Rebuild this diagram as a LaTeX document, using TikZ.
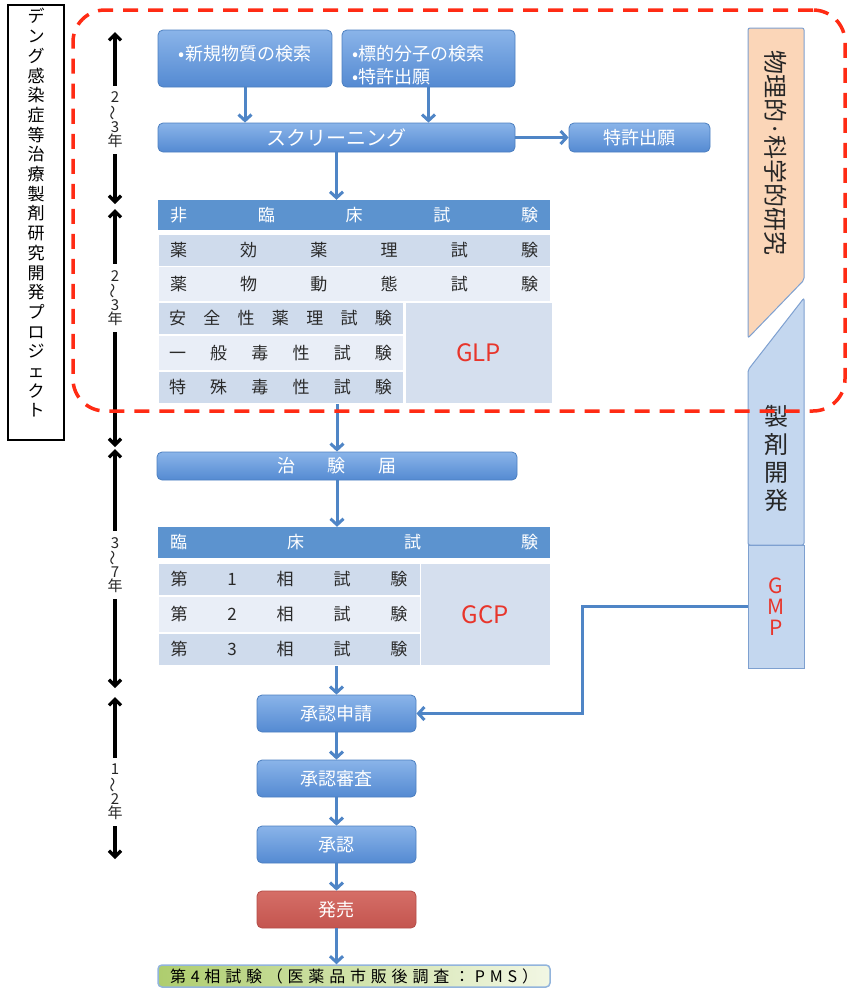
\documentclass[tikz,border=0pt]{standalone}
\usepackage{fontspec}
\setmainfont{Noto Sans CJK JP}
\usepackage{graphicx}
\usetikzlibrary{arrows.meta}

\definecolor{boxtop}{HTML}{8AB4E9}
\definecolor{boxbot}{HTML}{548AD2}
\definecolor{boxline}{HTML}{4C7FC0}
\definecolor{hdblue}{HTML}{5C93CF}
\definecolor{rowdark}{HTML}{CFDBEC}
\definecolor{rowlight}{HTML}{E9EEF7}
\definecolor{glpfill}{HTML}{D5DFEE}
\definecolor{tabtext}{HTML}{2A2A2A}
\definecolor{gxpred}{HTML}{E8352B}
\definecolor{arrowblue}{HTML}{4F85C6}
\definecolor{launchtop}{HTML}{D56E67}
\definecolor{launchbot}{HTML}{C4554F}
\definecolor{launchline}{HTML}{B44D48}
\definecolor{pmsleft}{HTML}{AECD6E}
\definecolor{pmsright}{HTML}{F2F7E4}
\definecolor{pmsline}{HTML}{92B4DC}
\definecolor{physfill}{HTML}{FBD6B8}
\definecolor{colfill}{HTML}{C4D7EF}
\definecolor{colline}{HTML}{7EA0D0}
\definecolor{dashred}{HTML}{FF2B14}

\newcommand{\jfont}[2]{\fontsize{#1}{#2}\selectfont}

\tikzset{
  flowbox/.style={rectangle, rounded corners=5pt, draw=boxline, line width=0.8pt,
    top color=boxtop, bottom color=boxbot, text=white, inner sep=0pt, font=\jfont{18}{21}},
  salebox/.style={flowbox, top color=launchtop, bottom color=launchbot, draw=launchline},
  tabhead/.style={rectangle, fill=hdblue, text=white, inner sep=0pt, font=\jfont{17}{20}},
  rowdk/.style={rectangle, fill=rowdark, draw=white, line width=1pt, text=tabtext,
    inner sep=0pt, font=\jfont{17}{20}},
  rowlt/.style={rowdk, fill=rowlight},
  gxpcell/.style={rectangle, fill=glpfill, draw=white, line width=1pt, text=gxpred,
    inner sep=0pt, font=\jfont{24}{28}},
  flowarrow/.style={draw=arrowblue, line width=3pt, -{Straight Barb[length=6pt,width=13pt]}},
  timearrow/.style={draw=black, line width=3.2pt,
    {Straight Barb[length=6pt,width=12pt]}-{Straight Barb[length=6pt,width=12pt]}},
  timelabel/.style={fill=white, align=center, inner xsep=2pt, inner ysep=6pt,
    font=\jfont{15}{14}, text=black!85}
}

\begin{document}
\begin{tikzpicture}[x=1pt, y=-1pt]
  \useasboundingbox (0,0) rectangle (847,996);

  % project title on the left
  \node[draw=black, line width=1.2pt, minimum width=56, minimum height=435, inner sep=0pt] (projbox) at (36,222.5) {};
  \node[align=center, font=\jfont{17}{19.7}] (projtitle) at (36,213)
    {デ\\ン\\グ\\感\\染\\症\\等\\治\\療\\製\\剤\\研\\究\\開\\発\\プ\\ロ\\ジ\\ェ\\ク\\ト};

  % time scale
  \coordinate (t0) at (115,32);
  \coordinate (t1a) at (115,204);
  \coordinate (t1b) at (115,209);
  \coordinate (t2a) at (115,447);
  \coordinate (t2b) at (115,449);
  \coordinate (t3a) at (115,688);
  \coordinate (t3b) at (115,697);
  \coordinate (t4) at (115,859);
  \draw[timearrow] (t0) -- node[timelabel, pos=0.51] (yrs1) {2\\\rotatebox[origin=c]{90}{〜}\\3\\年} (t1a);
  \draw[timearrow] (t1b) -- node[timelabel, pos=0.374] (yrs2) {2\\\rotatebox[origin=c]{90}{〜}\\3\\年} (t2a);
  \draw[timearrow] (t2b) -- node[timelabel, pos=0.485] (yrs3) {3\\\rotatebox[origin=c]{90}{〜}\\7\\年} (t3a);
  \draw[timearrow] (t3b) -- node[timelabel, pos=0.586] (yrs4) {1\\\rotatebox[origin=c]{90}{〜}\\2\\年} (t4);

  % discovery
  \node[flowbox, minimum width=174, minimum height=57, align=center] (newsub) at (245,58.5) {•新規物質の検索\\[-9pt]\mbox{}};
  \node[flowbox, minimum width=173, minimum height=57, text width=153, align=left] (target) at (428.5,58.5)
    {\mbox{}\\[8pt]•標的分子の検索\\[2pt]•特許出願};
  \node[flowbox, minimum width=357, minimum height=29, font=\jfont{20}{23}] (screen) at (336.5,137.5) {スクリーニング};
  \node[flowbox, minimum width=141, minimum height=29] (patent) at (639.5,137.5) {特許出願};
  \draw[flowarrow] (newsub) -- (newsub |- screen.north);
  \draw[flowarrow] (target) -- (target |- screen.north);
  \draw[flowarrow] (screen.east) -- (patent.west);

  % non-clinical tests
  \node[tabhead, minimum width=392, minimum height=30] (nchead) at (354,215)
    {\makebox[368pt][s]{非\hfill 臨\hfill 床\hfill 試\hfill 験}};
  \node[rowdk, minimum width=392, minimum height=32] (ncrow1) at (354,250.5)
    {\makebox[368pt][s]{薬\hfill 効\hfill 薬\hfill 理\hfill 試\hfill 験}};
  \node[rowlt, minimum width=392, minimum height=35] (ncrow2) at (354,284)
    {\makebox[368pt][s]{薬\hfill 物\hfill 動\hfill 態\hfill 試\hfill 験}};
  \node[rowdk, minimum width=245, minimum height=32] (ncrow3) at (280.5,318.5)
    {\makebox[223pt][s]{安\hfill 全\hfill 性\hfill 薬\hfill 理\hfill 試\hfill 験}};
  \node[rowlt, minimum width=245, minimum height=35] (ncrow4) at (280.5,353)
    {\makebox[223pt][s]{一\hfill 般\hfill 毒\hfill 性\hfill 試\hfill 験}};
  \node[rowdk, minimum width=245, minimum height=32] (ncrow5) at (280.5,387.5)
    {\makebox[223pt][s]{特\hfill 殊\hfill 毒\hfill 性\hfill 試\hfill 験}};
  \node[gxpcell, minimum width=147, minimum height=101] (glp) at (478.5,353) {GLP};
  \draw[flowarrow] (screen.south) -- (screen.south |- nchead.north);

  % clinical trial notification and trials
  \node[flowbox, minimum width=360, minimum height=28] (ctn) at (337,466)
    {治\hspace{33pt}験\hspace{33pt}届};
  \draw[flowarrow] (ctn.north |- ncrow5.south) -- (ctn.north);
  \node[tabhead, minimum width=392, minimum height=31] (clhead) at (354,542.5)
    {\makebox[368pt][s]{臨\hfill 床\hfill 試\hfill 験}};
  \draw[flowarrow] (ctn.south) -- (ctn.south |- clhead.north);
  \node[rowdk, minimum width=262, minimum height=32] (clrow1) at (289,579.5)
    {\makebox[237pt][s]{第\hfill 1\hfill 相\hfill 試\hfill 験}};
  \node[rowlt, minimum width=262, minimum height=36] (clrow2) at (289,614.5)
    {\makebox[237pt][s]{第\hfill 2\hfill 相\hfill 試\hfill 験}};
  \node[rowdk, minimum width=262, minimum height=32] (clrow3) at (289,649.5)
    {\makebox[237pt][s]{第\hfill 3\hfill 相\hfill 試\hfill 験}};
  \node[gxpcell, minimum width=130, minimum height=102] (gcp) at (485,614.5) {GCP};

  % approval and launch
  \node[flowbox, minimum width=159, minimum height=37] (apply) at (336.5,713.5) {承認申請};
  \node[flowbox, minimum width=159, minimum height=37] (review) at (336.5,778.5) {承認審査};
  \node[flowbox, minimum width=159, minimum height=37] (approve) at (336.5,844.5) {承認};
  \node[salebox, minimum width=159, minimum height=37] (launch) at (336.5,909.5) {発売};
  \node[rectangle, rounded corners=4pt, draw=pmsline, line width=1.5pt, left color=pmsleft, right color=pmsright,
    minimum width=392, minimum height=22, inner sep=0pt, font=\jfont{16}{18}] (pms) at (354,976)
    {\makebox[368pt][s]{第\hfill 4\hfill 相\hfill 試\hfill 験\hfill （\hfill 医\hfill 薬\hfill 品\hfill 市\hfill 販\hfill 後\hfill 調\hfill 査\hfill ：\hfill P\hfill M\hfill S\hfill ）}};
  \draw[flowarrow] (apply.north |- clrow3.south) -- (apply.north);
  \draw[flowarrow] (apply) -- (review);
  \draw[flowarrow] (review) -- (approve);
  \draw[flowarrow] (approve) -- (launch);
  \draw[flowarrow] (launch.south) -- (launch.south |- pms.north);

  % research / formulation column
  \filldraw[fill=physfill, draw=colline, line width=1pt, rounded corners=2pt]
    (748,28) -- (804,28) -- (804,280) -- (748,338) -- cycle;
  \node[rotate=-90, font=\jfont{24}{26}, text=black!85] (physres) at (776,153) {物理的·科学的研究};
  \filldraw[fill=colfill, draw=colline, line width=1pt, rounded corners=2pt]
    (748,370) -- (804,298) -- (804,545) -- (748,545) -- cycle;
  \node[align=center, font=\jfont{24}{28}, text=black!85] (formdev) at (776,458) {製\\剤\\開\\発};
  \node[rectangle, fill=colfill, draw=colline, line width=1pt, minimum width=56, minimum height=123,
    inner sep=0pt, align=center, text=gxpred, font=\jfont{21}{21}] (gmp) at (776,606.5) {G\\M\\P};
  \coordinate (gmpbend) at (582,713.5);
  \draw[flowarrow] (gmp.west) -| (gmpbend) -- (apply.east);

  % research zone
  \node[draw=dashred, line width=3.5pt, dash pattern=on 15pt off 10pt, rounded corners=32pt,
    minimum width=772, minimum height=401, inner sep=0pt] (labzone) at (459,210.5) {};
\end{tikzpicture}
\end{document}
